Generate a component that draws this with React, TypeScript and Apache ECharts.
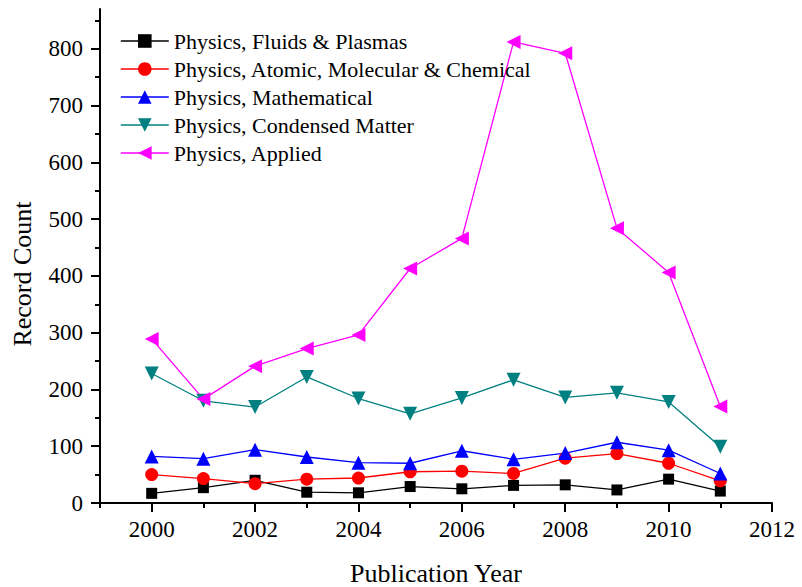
import React, { useEffect, useRef } from "react";
import * as echarts from "echarts";

const years = [2000, 2001, 2002, 2003, 2004, 2005, 2006, 2007, 2008, 2009, 2010, 2011];
const fluids = [17, 27, 40, 19, 18, 29, 25, 31, 32, 23, 42, 21];
const atomic = [50, 43, 34, 42, 44, 55, 56, 52, 79, 87, 70, 39];
const mathematical = [82, 78, 94, 81, 71, 70, 92, 77, 88, 107, 93, 52];
const condensed = [228, 180, 169, 222, 184, 157, 185, 217, 186, 194, 178, 99];
const applied = [289, 183, 241, 272, 296, 413, 466, 812, 792, 484, 406, 170];

const xMajorTicks = [2000, 2002, 2004, 2006, 2008, 2010, 2012];
const xMinorTicks = [1999, 2001, 2003, 2005, 2007, 2009, 2011];
const yMajorTicks = [0, 100, 200, 300, 400, 500, 600, 700, 800];
const yMinorTicks = [50, 150, 250, 350, 450, 550, 650, 750, 850];

const seriesDefs = [
  { name: "Physics, Fluids & Plasmas", data: fluids, color: "#000000", symbol: "rect", size: 11, rotate: 0 },
  { name: "Physics, Atomic, Molecular & Chemical", data: atomic, color: "#FF0000", symbol: "circle", size: 13, rotate: 0 },
  { name: "Physics, Mathematical", data: mathematical, color: "#0000FF", symbol: "triangle", size: 14, rotate: 0 },
  { name: "Physics, Condensed Matter", data: condensed, color: "#008080", symbol: "triangle", size: 14, rotate: 180 },
  { name: "Physics, Applied", data: applied, color: "#FF00FF", symbol: "triangle", size: 14, rotate: 90 },
];

const FONT = "Liberation Serif";

export default function App() {
  const ref = useRef<HTMLDivElement>(null);
  useEffect(() => {
    if (!ref.current) return;
    document.body.style.margin = "0";
    const chart = echarts.init(ref.current, null, { renderer: "svg" });
    const axisCommon = { min: 1999, max: 2012, interval: 1, type: "value" as const };
    const ls = { fontFamily: FONT, fontSize: 23, color: "#000000" };
    chart.setOption({
      animation: false,
      backgroundColor: "#ffffff",
      textStyle: { fontFamily: FONT },
      grid: { left: 100, right: 30, top: 9, bottom: 84, containLabel: false },
      legend: {
        orient: "vertical",
        left: 115,
        top: 25,
        itemWidth: 48,
        itemHeight: 17,
        itemGap: 6,
        lineStyle: { width: 1.6 },
        textStyle: { fontFamily: FONT, fontSize: 22, color: "#000", lineHeight: 22 },
        data: seriesDefs.map((s) => s.name),
      },
      xAxis: [
        {
          ...axisCommon,
          position: "bottom",
          axisLine: { show: true, lineStyle: { color: "#000", width: 2 } },
          axisTick: { show: true, customValues: xMajorTicks, length: 9, lineStyle: { color: "#000", width: 2 } },
          axisLabel: {
            show: true,
            formatter: (v: number) => (v % 2 === 0 ? String(v) : ""),
            ...ls,
            margin: 15,
          },
          splitLine: { show: false },
        },
        {
          ...axisCommon,
          position: "bottom",
          axisLine: { show: false },
          axisTick: { show: true, customValues: xMinorTicks, length: 5, lineStyle: { color: "#000", width: 2 } },
          axisLabel: { show: false },
          splitLine: { show: false },
        },
      ],
      yAxis: [
        {
          type: "value",
          min: 0,
          max: 870,
          interval: 100,
          position: "left",
          axisLine: { show: true, lineStyle: { color: "#000", width: 2 } },
          axisTick: { show: true, customValues: yMajorTicks, length: 9, lineStyle: { color: "#000", width: 2 } },
          axisLabel: {
            show: true,
            formatter: (v: number) => (v % 100 === 0 ? String(v) : ""),
            ...ls,
            margin: 17,
          },
          splitLine: { show: false },
        },
        {
          type: "value",
          min: 0,
          max: 870,
          interval: 50,
          position: "left",
          axisLine: { show: false },
          axisTick: { show: true, customValues: yMinorTicks, length: 5, lineStyle: { color: "#000", width: 2 } },
          axisLabel: { show: false },
          splitLine: { show: false },
        },
      ],
      graphic: [
        {
          type: "text",
          x: 436,
          y: 573,
          style: {
            text: "Publication Year",
            fontFamily: FONT,
            fontSize: 26,
            fill: "#000",
            textAlign: "center",
            textVerticalAlign: "middle",
          },
        },
        {
          type: "text",
          x: 22,
          y: 274,
          rotation: Math.PI / 2,
          style: {
            text: "Record Count",
            fontFamily: FONT,
            fontSize: 26,
            fill: "#000",
            textAlign: "center",
            textVerticalAlign: "middle",
          },
        },
      ],
      series: seriesDefs.map((s) => ({
        name: s.name,
        type: "line",
        xAxisIndex: 0,
        yAxisIndex: 0,
        data: years.map((y, i) => [y, s.data[i]]),
        symbol: s.symbol,
        symbolSize: s.size,
        symbolRotate: s.rotate,
        showAllSymbol: true,
        lineStyle: { color: s.color, width: 1.3 },
        itemStyle: { color: s.color, borderWidth: 0 },
        emphasis: { disabled: true },
      })),
    });
    return () => chart.dispose();
  }, []);
  return <div ref={ref} style={{ width: 802, height: 587 }} />;
}
